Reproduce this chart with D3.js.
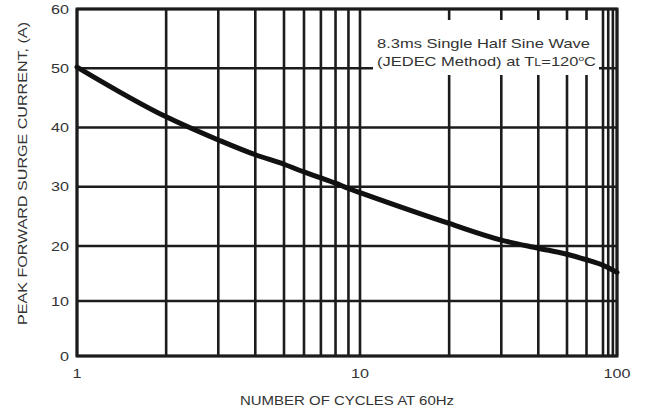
<!DOCTYPE html>
<html>
<head>
<meta charset="utf-8">
<script src="https://cdn.jsdelivr.net/npm/d3@7"></script>
<style>
  body { margin: 0; background: #fff; }
  text { font-family: "Liberation Sans", Arial, sans-serif; fill: #333; }
</style>
</head>
<body>
<svg id="chart"></svg>
<script>
// cycles / peak current
var cycles = [1, 2, 3, 4, 5, 6, 7, 8, 9, 10, 20, 30, 40, 50, 60, 70, 100];
var current = [50.2, 41.8, 37.9, 35.4, 33.8, 32.5, 31.5, 30.6, 29.7, 29.0, 23.8, 21.0, 19.6, 18.5, 17.5, 16.5, 15.2];

var xGrid = [1, 2, 3, 4, 5, 6, 7, 8, 9, 10, 20, 30, 40, 50, 60, 70, 80, 90, 100];
var xTickLabels = [1, 10, 100];
var yTicks = [0, 10, 20, 30, 40, 50, 60];

var titleX = "NUMBER OF CYCLES AT 60Hz";
var titleY = "PEAK FORWARD SURGE CURRENT, (A)";
var note1 = "8.3ms Single Half Sine Wave";
var note2 = "(JEDEC Method) at T";

var W = 646, H = 415;
var svg = d3.select("#chart").attr("width", W).attr("height", H);

// the scanned grid is not evenly spaced, so both scales get a few knots
var x = d3.scaleLog()
    .domain([1, 5, 10, 50, 70, 100])
    .range([77, 284, 360, 567, 603, 617]);
var y = d3.scaleLinear().domain([0, 20, 60]).range([356, 246, 9]);

var ink = "#1c1c1c";
var fs = 13;

/* grid */
svg.append("g").selectAll("line")
    .data(xGrid)
    .enter().append("line")
    .attr("x1", function(d){ return x(d); })
    .attr("x2", function(d){ return x(d); })
    .attr("y1", y(0)).attr("y2", y(60))
    .attr("stroke", ink).attr("stroke-width", 2.6);

svg.append("g").selectAll("line")
    .data(yTicks)
    .enter().append("line")
    .attr("x1", x(1)).attr("x2", x(100))
    .attr("y1", function(d){ return y(d); })
    .attr("y2", function(d){ return y(d); })
    .attr("stroke", ink).attr("stroke-width", 2.6);

// white box behind the note
svg.append("rect")
    .attr("x", 373).attr("y", 20)
    .attr("width", 226).attr("height", 55)
    .attr("fill", "#fff");

// frame
svg.append("rect")
    .attr("x", x(1)).attr("y", y(60))
    .attr("width", x(100) - x(1)).attr("height", y(0) - y(60))
    .attr("fill", "none").attr("stroke", ink).attr("stroke-width", 3);

/* curve */
var line = d3.line()
    .x(function(d, i){ return x(cycles[i]); })
    .y(function(d){ return y(d); })
    .curve(d3.curveMonotoneX);

svg.append("path")
    .datum(current)
    .attr("d", line)
    .attr("fill", "none")
    .attr("stroke", "#111")
    .attr("stroke-width", 5)
    .attr("stroke-linecap", "round");

/* tick labels (the face in the scan is wide, so stretch a bit) */
svg.append("g").selectAll("text")
    .data(yTicks)
    .enter().append("text")
    .attr("x", 69)
    .attr("y", function(d){ return y(d); })
    .attr("dy", "0.36em")
    .attr("text-anchor", "end")
    .attr("font-size", fs)
    .attr("textLength", function(d){ return String(d).length * 9; })
    .attr("lengthAdjust", "spacingAndGlyphs")
    .text(function(d){ return d; });

svg.append("g").selectAll("text")
    .data(xTickLabels)
    .enter().append("text")
    .attr("x", function(d){ return x(d); })
    .attr("y", 378)
    .attr("text-anchor", "middle")
    .attr("font-size", fs)
    .attr("textLength", function(d){ return String(d).length * 9; })
    .attr("lengthAdjust", "spacingAndGlyphs")
    .text(function(d){ return d; });

/* axis titles */
svg.append("text")
    .attr("x", 240).attr("y", 405)
    .attr("font-size", fs)
    .attr("textLength", 214)
    .attr("lengthAdjust", "spacingAndGlyphs")
    .text(titleX);

svg.append("text")
    .attr("transform", "translate(27,325) rotate(-90)")
    .attr("font-size", fs)
    .attr("textLength", 303)
    .attr("lengthAdjust", "spacingAndGlyphs")
    .text(titleY);

/* note */
svg.append("text")
    .attr("x", 377).attr("y", 48)
    .attr("font-size", fs)
    .attr("textLength", 213)
    .attr("lengthAdjust", "spacingAndGlyphs")
    .text(note1);

var n2 = svg.append("text")
    .attr("x", 377).attr("y", 66)
    .attr("font-size", fs)
    .attr("textLength", 219)
    .attr("lengthAdjust", "spacingAndGlyphs")
    .text(note2);
n2.append("tspan").attr("font-size", 10).text("L");
n2.append("tspan").text("=120");
n2.append("tspan").attr("font-size", 8).attr("dy", -5).text("o");
n2.append("tspan").attr("dy", 5).text("C");
</script>
</body>
</html>
